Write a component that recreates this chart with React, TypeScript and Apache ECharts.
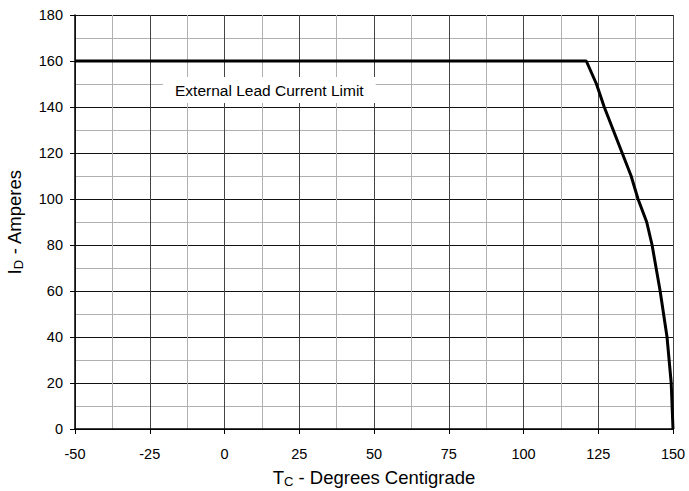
import React, { useEffect, useRef } from "react";
import * as echarts from "echarts";

const tempC = [-50, 121, 124.4, 127, 130, 133, 136, 138.3, 141.2, 143, 145.7, 148, 149.4, 150];
const currentA = [160, 160, 150, 140, 130, 120, 110, 100, 90, 80, 60, 40, 20, 0];
const xTicks = [-50, -25, 0, 25, 50, 75, 100, 125, 150];
const yTicks = [0, 20, 40, 60, 80, 100, 120, 140, 160, 180];
const annotation = "External Lead Current Limit";

export default function App() {
  const ref = useRef<HTMLDivElement>(null);
  useEffect(() => {
    document.body.style.margin = "0";
    const chart = echarts.init(ref.current!, null, { renderer: "svg" });
    const font = "'Liberation Sans', Arial, sans-serif";
    const rich = {
      a: { fontSize: 18.5, lineHeight: 22, color: "#000", fontFamily: font },
      s: { fontSize: 13, lineHeight: 22, color: "#000", fontFamily: font, verticalAlign: "bottom", padding: [6, 0, 0, 0] },
    };
    chart.setOption({
      animation: false,
      backgroundColor: "#fff",
      grid: { left: 75, right: 16, top: 15, bottom: 62, show: false, containLabel: false, outerBoundsMode: "none" },
      xAxis: {
        type: "value",
        min: xTicks[0],
        max: xTicks[xTicks.length - 1],
        interval: 25,
        name: "{a|T}{s|C}{a| - Degrees Centigrade}",
        nameLocation: "middle",
        nameGap: 37,
        nameTextStyle: { rich },
        axisLine: { show: true, onZero: false, lineStyle: { color: "#000", width: 1.5 } },
        axisTick: { show: true, length: 5, lineStyle: { color: "#000" } },
        axisLabel: { color: "#000", fontSize: 14.5, fontFamily: font, margin: 17 },
        splitLine: { show: true, lineStyle: { color: "#444", width: 1 } },
        minorTick: { show: false, splitNumber: 2 },
        minorSplitLine: { show: true, lineStyle: { color: "#b0b0b0", width: 1 } },
      },
      yAxis: {
        type: "value",
        min: yTicks[0],
        max: yTicks[yTicks.length - 1],
        interval: 20,
        name: "{a|I}{s|D}{a| - Amperes}",
        nameLocation: "middle",
        nameGap: 50,
        nameRotate: 90,
        nameTextStyle: { rich },
        axisLine: { show: true, onZero: false, lineStyle: { color: "#000", width: 1.5 } },
        axisTick: { show: true, length: 5, lineStyle: { color: "#000" } },
        axisLabel: { color: "#000", fontSize: 14.5, fontFamily: font, margin: 12 },
        splitLine: { show: true, lineStyle: { color: "#111", width: 1 } },
        minorTick: { show: false, splitNumber: 2 },
        minorSplitLine: { show: true, lineStyle: { color: "#b0b0b0", width: 1 } },
      },
      graphic: [
        {
          type: "text",
          left: 163,
          top: 77,
          z: 100,
          style: {
            text: annotation,
            fontSize: 15.5,
            fontFamily: font,
            fill: "#000",
            backgroundColor: "#fff",
            padding: [5, 12, 5, 12],
          },
        },
      ],
      series: [
        {
          type: "line",
          data: tempC.map((t, i) => [t, currentA[i]]),
          showSymbol: false,
          symbol: "none",
          lineStyle: { color: "#000", width: 3 },
          z: 10,
        },
      ],
    });
    return () => chart.dispose();
  }, []);
  return <div ref={ref} style={{ width: 689, height: 491 }} />;
}
